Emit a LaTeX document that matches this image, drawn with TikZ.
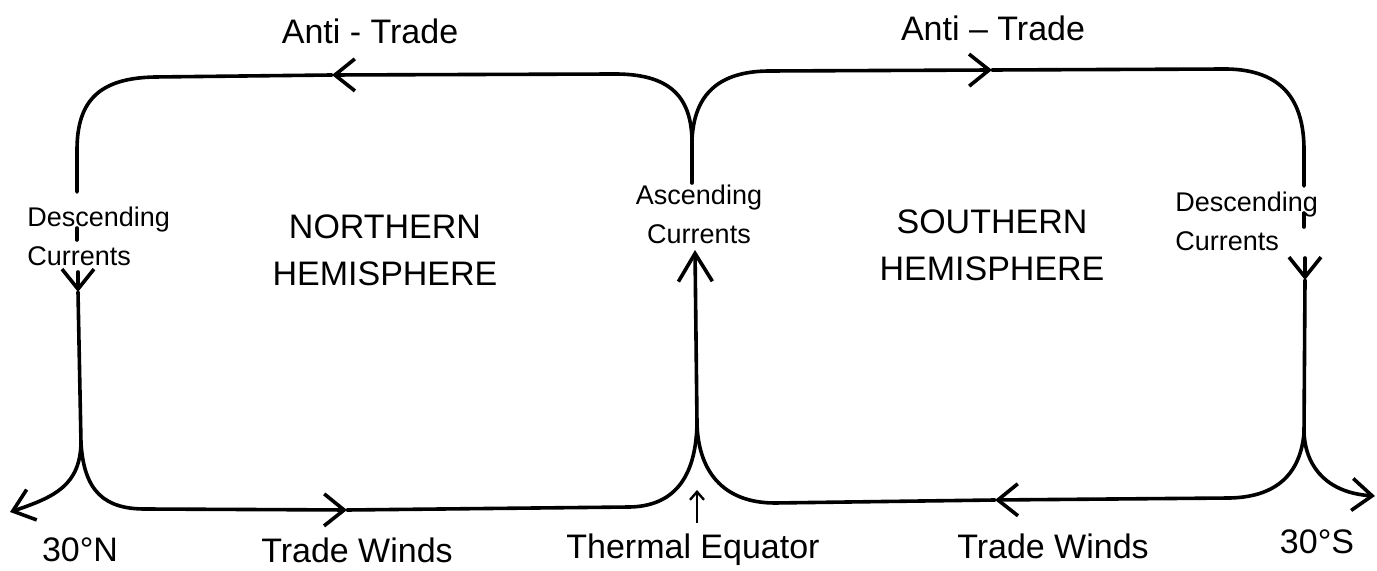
\documentclass[tikz,border=0pt]{standalone}
\usepackage{fontspec}
\setmainfont{Liberation Sans}
\usepackage{tikz}
\usetikzlibrary{arrows.meta,positioning}

\begin{document}
\begin{tikzpicture}[x=.5pt,y=-.5pt,
  flow/.style={line width=1.8pt,line cap=round},
  barb/.style={-{Straight Barb[length=10pt,width=16pt]}},
  lbl/.style={inner sep=0pt,font=\fontsize{17}{20}\selectfont},
  hemi/.style={inner sep=0pt,align=center,font=\fontsize{17}{23.5}\selectfont},
  curr/.style={inner sep=0pt,font=\fontsize{13.5}{19.5}\selectfont}]
\useasboundingbox (0,0) rectangle (1377,571);
% turning points of the two cells
\coordinate (ctrtop) at (692,140);
\coordinate (ctrbot) at (697,423);
\coordinate (nsplit) at (81,443);
\coordinate (ssplit) at (1304,433);
% arrow heads
\coordinate (antintip) at (332,75);
\coordinate (antistip) at (992,70);
\coordinate (tradentip) at (347,510);
\coordinate (tradestip) at (995,500);
\coordinate (descntip) at (78,292);
\coordinate (descstip) at (1305,280);
\coordinate (asctip) at (695,250);
\coordinate (latntip) at (10,512);
\coordinate (latstip) at (1375,496);
% line ends beside the labels
\coordinate (descntop) at (77,192);
\coordinate (descnmida) at (77,228);
\coordinate (descnmidb) at (77,240);
\coordinate (descnshaft) at (78,272);
\coordinate (descstop) at (1304,186);
\coordinate (descsmida) at (1304,213);
\coordinate (descsmidb) at (1304,227);
\coordinate (descsshaft) at (1305,258);
\coordinate (ascbot) at (692,183);
\coordinate (eqtail) at (697,523);
\coordinate (eqhead) at (697,490);

% labels
\node[lbl] (antin) at (370,31) {Anti - Trade};
\node[lbl] (antis) at (993,28) {Anti -- Trade};
\node[hemi] (north) at (385,250) {NORTHERN\\HEMISPHERE};
\node[hemi] (south) at (992,245) {SOUTHERN\\HEMISPHERE};
\node[curr,align=left,anchor=west] (descn) at (27,236) {Descending\\Currents};
\node[curr,align=left,anchor=west] (descs) at (1175,221) {Descending\\Currents};
\node[curr,align=center] (asc) at (699,214) {Ascending\\Currents};
\node[lbl] (traden) at (357,550) {Trade Winds};
\node[lbl] (trades) at (1053,546) {Trade Winds};
\node[lbl] (equator) at (693,550) {Thermal Equator};
\node[lbl] (latn) at (80,550) {30°N};
\node[lbl] (lats) at (1317,542) {30°S};

% northern cell
\draw[flow,barb] (ctrtop) .. controls (691,95) and (668,74) .. (615,74) -- (antintip);
\draw[flow] (antintip) -- (155,77) .. controls (100,78) and (77,100) .. (77,150) -- (descntop);
\draw[flow] (descnmida) -- (descnmidb);
\draw[flow,barb] (descnshaft) -- (descntip);
\draw[flow] (descntip) -- (nsplit);
\draw[flow,barb] (nsplit) .. controls (80,485) and (55,497) .. (latntip);
\draw[flow,barb] (nsplit) .. controls (84,492) and (105,509) .. (145,509) -- (tradentip);
\draw[flow] (tradentip) -- (630,507) .. controls (672,506) and (696,480) .. (ctrbot);
\draw[flow,-{Straight Barb[length=14pt,width=17pt]}] (ctrbot) -- (asctip);
\draw[flow] (ascbot) -- (ctrtop);

% southern cell
\draw[flow,barb] (ctrtop) .. controls (694,95) and (718,71) .. (770,71) -- (antistip);
\draw[flow] (antistip) -- (1227,69) .. controls (1282,70) and (1304,100) .. (1304,150) -- (descstop);
\draw[flow] (descsmida) -- (descsmidb);
\draw[flow,barb] (descsshaft) -- (descstip);
\draw[flow] (descstip) -- (ssplit);
\draw[flow,barb] (ssplit) .. controls (1306,470) and (1330,493) .. (latstip);
\draw[flow,barb] (ssplit) .. controls (1300,478) and (1272,497) .. (1230,498) -- (tradestip);
\draw[flow] (tradestip) -- (775,503) .. controls (722,503) and (698,470) .. (ctrbot);

% equator marker
\draw[line width=1.2pt,-{Straight Barb[length=4pt,width=7pt]}] (eqtail) -- (eqhead);
\end{tikzpicture}
\end{document}
